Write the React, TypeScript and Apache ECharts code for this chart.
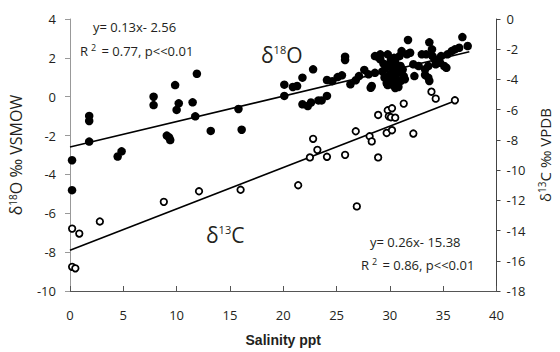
import React, { useEffect, useRef } from "react";
import * as echarts from "echarts";

// δ18O (left axis, ‰ VSMOW) vs salinity
const d18OSalinity = [
  0.19, 0.19, 1.8, 1.8, 1.8, 4.47, 4.84, 7.84, 7.84, 9.08, 9.3, 9.4, 9.86, 10.0, 10.2, 11.5, 11.75, 11.9, 13.2, 15.8, 16.1,
  20.1, 20.1, 20.9, 21.3, 21.8, 21.8, 22.3, 22.6, 22.8, 23.3, 23.6, 24.1, 24.1, 24.6, 25.1, 25.5, 25.8, 25.8, 26.3, 26.8,
  27.1, 27.6, 28.0, 28.2, 28.3, 28.6, 28.6, 28.9, 29.1, 29.1, 29.5, 29.6, 29.8, 29.9, 30.0, 30.0, 30.2, 30.3, 30.4, 30.5,
  30.6, 30.7, 30.8, 30.9, 31.0, 31.1, 31.3, 31.4, 31.6, 31.7, 31.9, 32.2, 32.3, 32.7, 33.0, 33.3, 33.3, 33.4, 33.6, 33.6,
  33.7, 33.7, 33.95, 34.0, 34.2, 34.3, 34.7, 34.8, 35.1, 35.3, 35.4, 35.8, 36.1, 36.5, 36.8, 37.3,
  29.3, 29.7, 30.1, 30.3, 30.6, 31.2, 29.9, 30.4, 29.4, 30.8, 31.0, 30.5, 29.8
];
const d18OValues = [
  -3.27, -4.81, -0.99, -1.25, -2.31, -3.08, -2.81, 0.0, -0.43, -2.0, -2.1, -2.23, 0.6, -0.68, -0.34, -0.29, -1.01, 1.18, -1.76, -0.63, -1.7,
  0.62, 0.04, 0.5, 0.55, 0.98, -0.39, -0.48, -0.3, 1.41, -0.19, -0.19, 0.04, 0.86, 0.8, 1.01, 1.1, 2.06, 1.89, 0.64, 0.85,
  1.06, 1.38, 1.15, 0.46, 0.55, 1.23, 2.09, 2.04, 2.18, 1.92, 0.98, 1.5, 2.18, 1.67, 1.15, 0.8, 0.72, 1.41, 1.0, 1.84,
  0.89, 1.2, 1.32, 2.09, 1.58, 2.35, 1.06, 0.9, 2.18, 2.92, 2.26, 1.67, 1.06, 1.58, 2.18, 1.12, 1.41, 2.18, 0.98, 1.58,
  0.81, 2.8, 2.44, 2.09, 1.92, 1.67, 1.75, 2.09, 1.58, 1.49, 2.18, 2.35, 2.44, 2.52, 3.07, 2.61,
  1.3, 0.7, 1.9, 0.6, 1.6, 1.4, 1.0, 2.0, 1.7, 0.5, 0.8, 0.45, 0.6
];

// δ13C (right axis, ‰ VPDB) vs salinity
const d13CSalinity = [
  0.2, 0.5, 0.2, 0.87, 2.8, 8.8, 12.1, 16.0, 21.4, 26.9,
  22.8, 23.2, 22.5, 24.1, 25.8, 26.8, 28.1, 28.3, 28.9, 28.9, 29.7, 29.8, 29.9, 30.2, 30.2, 30.1, 30.5, 31.3, 32.2, 33.9, 34.3, 36.1
];
const d13CValues = [
  -16.4, -16.5, -13.87, -14.2, -13.4, -12.1, -11.4, -11.3, -11.0, -12.4,
  -7.93, -8.66, -9.16, -9.12, -8.99, -7.43, -7.76, -8.1, -9.16, -6.35, -7.54, -6.04, -6.44, -5.91, -7.36, -6.5, -6.53, -5.6, -7.58, -4.81, -5.27, -5.38
];

// fitted regression line end points
const d18OFitX = [0, 37.45];
const d18OFitY = [-2.59, 2.31];
const d13CFitX = [0, 36.2];
const d13CFitY = [-15.3, -5.4];

const xTicks = { min: 0, max: 40, interval: 5 };
const leftTicks = { min: -10, max: 4, interval: 2 };
const rightTicks = { min: -18, max: 0, interval: 2 };

const FONT = "'Open Sans', 'Noto Sans', sans-serif";
const TXT = "#231f20";

export default function App() {
  const ref = useRef<HTMLDivElement>(null);
  useEffect(() => {
    if (!ref.current) return;
    const chart = echarts.init(ref.current, undefined, { renderer: "svg" });
    const zip = (a: number[], b: number[]) => a.map((v, i) => [v, b[i]]);
    const labelStyle = { color: TXT, fontSize: 13, fontFamily: FONT };
    chart.setOption({
      animation: false,
      backgroundColor: "#fff",
      grid: { left: 69, right: 61, top: 19, bottom: 60, containLabel: false },
      xAxis: {
        type: "value",
        ...xTicks,
        axisLine: { show: true, onZero: false, lineStyle: { color: "#555", width: 1 } },
        axisTick: { show: true, inside: true, length: 5, lineStyle: { color: "#555" } },
        axisLabel: { ...labelStyle, margin: 17 },
        splitLine: { show: false },
        name: "Salinity ppt",
        nameLocation: "middle",
        nameGap: 42,
        nameTextStyle: { color: TXT, fontSize: 14, fontWeight: "bold", fontFamily: "'Liberation Sans', Arial, sans-serif" },
      },
      yAxis: [
        {
          type: "value",
          ...leftTicks,
          position: "left",
          axisLine: { show: true, onZero: false, lineStyle: { color: "#999", width: 1 } },
          axisTick: { show: true, inside: false, length: 5, lineStyle: { color: "#999" } },
          axisLabel: { ...labelStyle, margin: 14 },
          splitLine: { show: false },
          name: "{d|δ}{s|18}{d|O ‰ VSMOW}",
          nameLocation: "middle",
          nameRotate: 90,
          nameGap: 46,
          nameTextStyle: {
            rich: {
              d: { fontSize: 16, color: TXT, fontFamily: FONT },
              s: { fontSize: 10, color: TXT, fontFamily: FONT, verticalAlign: "top", padding: [0, 0, 6, 0] },
            },
          },
        },
        {
          type: "value",
          ...rightTicks,
          position: "right",
          axisLine: { show: true, onZero: false, lineStyle: { color: "#444", width: 1 } },
          axisTick: { show: true, inside: false, length: 4, lineStyle: { color: "#444" } },
          axisLabel: { ...labelStyle, margin: 10 },
          splitLine: { show: false },
          name: "{d|δ}{s|13}{d|C ‰ VPDB}",
          nameLocation: "middle",
          nameRotate: 90,
          nameGap: 40,
          nameTextStyle: {
            rich: {
              d: { fontSize: 15, color: TXT, fontFamily: FONT },
              s: { fontSize: 10, color: TXT, fontFamily: FONT, verticalAlign: "top", padding: [0, 0, 6, 0] },
            },
          },
        },
      ],
      series: [
        {
          type: "line",
          yAxisIndex: 0,
          data: zip(d18OFitX, d18OFitY),
          showSymbol: false,
          symbol: "none",
          lineStyle: { color: "#000", width: 1.6 },
          z: 1,
        },
        {
          type: "line",
          yAxisIndex: 1,
          data: zip(d13CFitX, d13CFitY),
          showSymbol: false,
          symbol: "none",
          lineStyle: { color: "#000", width: 1.6 },
          z: 1,
        },
        {
          type: "scatter",
          yAxisIndex: 0,
          data: zip(d18OSalinity, d18OValues),
          symbol: "circle",
          symbolSize: 8.5,
          itemStyle: { color: "#000", opacity: 1 },
          z: 3,
        },
        {
          type: "scatter",
          yAxisIndex: 1,
          data: zip(d13CSalinity, d13CValues),
          symbol: "circle",
          symbolSize: 6.5,
          itemStyle: { color: "#fff", borderColor: "#000", borderWidth: 1.8, opacity: 1 },
          z: 3,
        },
      ],
      graphic: [
        {
          type: "text",
          left: 93,
          top: 20,
          style: { text: "y= 0.13x- 2.56", fill: TXT, fontSize: 13, fontFamily: FONT },
        },
        {
          type: "text",
          left: 80,
          top: 43,
          style: {
            text: "{n|R}{s|2}{n| = 0.77, p<<0.01}",
            rich: {
              n: { fontSize: 13, fill: TXT, fontFamily: FONT },
              s: { fontSize: 9, fill: TXT, fontFamily: FONT, verticalAlign: "top", padding: [0, 2, 6, 3] },
            },
          },
        },
        {
          type: "text",
          left: 261,
          top: 44,
          style: {
            text: "{d|δ}{s|18}{d|O}",
            rich: {
              d: { fontSize: 21, fill: TXT, fontFamily: FONT },
              s: { fontSize: 11, fill: TXT, fontFamily: FONT, verticalAlign: "top", padding: [0, 0, 10, 0] },
            },
          },
        },
        {
          type: "text",
          left: 206,
          top: 224,
          style: {
            text: "{d|δ}{s|13}{d|C}",
            rich: {
              d: { fontSize: 21, fill: TXT, fontFamily: FONT },
              s: { fontSize: 11, fill: TXT, fontFamily: FONT, verticalAlign: "top", padding: [0, 0, 10, 0] },
            },
          },
        },
        {
          type: "text",
          left: 370,
          top: 235,
          style: { text: "y= 0.26x- 15.38", fill: TXT, fontSize: 13, fontFamily: FONT },
        },
        {
          type: "text",
          left: 361,
          top: 257,
          style: {
            text: "{n|R}{s|2}{n| = 0.86, p<<0.01}",
            rich: {
              n: { fontSize: 13, fill: TXT, fontFamily: FONT },
              s: { fontSize: 9, fill: TXT, fontFamily: FONT, verticalAlign: "top", padding: [0, 2, 6, 3] },
            },
          },
        },
      ],
    });
    return () => chart.dispose();
  }, []);
  return <div ref={ref} style={{ width: 560, height: 352, position: "absolute", left: 0, top: 0 }} />;
}
